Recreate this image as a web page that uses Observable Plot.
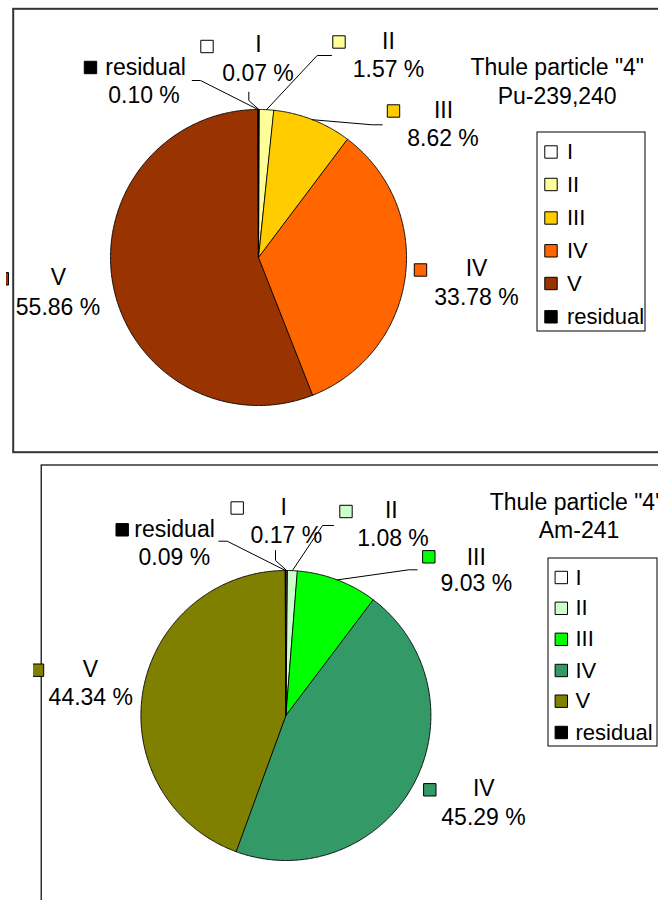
<!DOCTYPE html>
<html><head><meta charset="utf-8">
<script src="https://cdn.jsdelivr.net/npm/d3@7"></script>
<script src="https://cdn.jsdelivr.net/npm/@observablehq/plot@0.6"></script>
<style>
body{margin:0;background:#fff;}
#wrap{position:relative;width:658px;height:900px;overflow:hidden;background:#fff;}
.panel{position:absolute;overflow:hidden;}
</style></head><body>
<div id="wrap"><div id="top" class="panel"></div><div id="bottom" class="panel"></div></div>
<script>
// ---------- data ----------
const categories = ["I", "II", "III", "IV", "V", "residual"];
const puValues = [0.07, 1.57, 8.62, 33.78, 55.86, 0.10];
const amValues = [0.17, 1.08, 9.03, 45.29, 44.34, 0.09];
const puColors = ["#FFFFFF", "#FFFF99", "#FFCC00", "#FF6600", "#993300", "#000000"];
const amColors = ["#FFFFFF", "#CCFFCC", "#00FF00", "#339966", "#808000", "#000000"];
const puTitle = ['Thule particle "4"', "Pu-239,240"];
const amTitle = ['Thule particle "4"', "Am-241"];

// ---------- layout (page pixel coordinates) ----------
const FONT = "'Liberation Sans', Arial, Helvetica, sans-serif";
const FS = 23;      // data labels and titles
const FS_LEG = 22;  // legend entries
const puLayout = {
  panel: {left: 6, top: 0, width: 652, height: 458},
  center: [258, 257], r: 148,
  frame: {stroke: "#333", strokeWidth: 2, insetLeft: 6.7, insetTop: 8.3, insetBottom: 6.3, insetRight: -6},
  // [nameX, nameY, valueX, valueY, keyX, keyY]
  labels: [
    [258, 44.5, 257.5, 73.5, 206.5, 46],
    [388, 41, 388, 69.5, 338.5, 41.5],
    [443, 110, 442.5, 138.5, 393, 110.5],
    [476, 268.5, 476, 297, 420, 269.5],
    [58, 277, 57.5, 307.5, 1.8, 278.3],
    [145, 67, 143.5, 95, 90, 67]
  ],
  leaders: {0: [[248.3, 100], [248.3, 91.7]], 1: [[316.7, 55], [331, 55]], 2: [[371.7, 124.3], [381.7, 124.3]], 5: [[200, 80], [191.7, 80]]},
  title: [[556.7, 66.7], [556.7, 96]],
  legend: {box: [537, 132, 645, 331], keyX: 550.5, textX: 566.5, rows: [151.5, 184, 217.5, 250.3, 283, 316.3]}
};
const amLayout = {
  panel: {left: 33, top: 458, width: 625, height: 442},
  center: [285.4, 715], r: 145,
  frame: {stroke: "#000", strokeWidth: 1.2, insetLeft: 7.7, insetTop: 6.5, insetBottom: -6, insetRight: -6},
  labels: [
    [283.3, 506.7, 285.8, 535, 236.7, 507.5],
    [390.8, 510, 392.5, 538, 345.5, 511],
    [475.8, 556.7, 475.8, 583.3, 428.3, 556.3],
    [483.3, 788.3, 483, 816.7, 429.3, 789.3],
    [90, 669, 90.3, 696.7, 37, 669.7],
    [174, 529, 173.8, 557, 121.7, 529.3]
  ],
  leaders: {0: [[275, 560], [275, 550]], 1: [[322, 525], [333, 525]], 2: [[408.3, 569.3], [416.7, 569.3]], 5: [[226.7, 540.7], [218.3, 540.7]]},
  title: [[576, 501.7], [578.5, 530]],
  legend: {box: [548, 558, 657, 746], keyX: 560.8, textX: 575, rows: [577, 607.8, 638.8, 670, 700.7, 732]}
};

function piePanel(values, colors, title, L) {
  const [cx, cy] = L.center, r = L.r, P = L.panel;
  const loc = (p) => ({x: p[0] - cx, y: p[1] - cy});
  const arcs = d3.pie().sort(null).value(d => d)(values);

  // slice polygons from the values
  const slicePts = [];
  arcs.forEach((a, i) => {
    const n = Math.max(2, Math.ceil((a.endAngle - a.startAngle) / (Math.PI / 360)));
    slicePts.push({cat: categories[i], x: 0, y: 0, fill: colors[i]});
    for (let k = 0; k <= n; k++) {
      const t = a.startAngle + (a.endAngle - a.startAngle) * k / n;
      slicePts.push({cat: categories[i], x: r * Math.sin(t), y: -r * Math.cos(t), fill: colors[i]});
    }
  });

  // leader lines: from slice mid-angle on the rim to label
  const leaderPts = [];
  Object.entries(L.leaders).forEach(([i, pts]) => {
    const a = arcs[+i], m = (a.startAngle + a.endAngle) / 2;
    leaderPts.push({cat: categories[i], x: r * Math.sin(m), y: -r * Math.cos(m)});
    pts.forEach(p => leaderPts.push({cat: categories[i], ...loc(p)}));
  });

  const labels = categories.map((c, i) => {
    const q = L.labels[i];
    return {
      name: c, value: d3.format(".2f")(values[i]) + " %", color: colors[i],
      nx: q[0] - cx, ny: q[1] - cy, vx: q[2] - cx, vy: q[3] - cy, kx: q[4] - cx, ky: q[5] - cy
    };
  });
  const titles = title.map((t, i) => ({t, ...loc(L.title[i])}));
  const lg = L.legend;
  const legendBox = [{x1: lg.box[0] - cx, y1: lg.box[1] - cy, x2: lg.box[2] - cx, y2: lg.box[3] - cy}];
  const legendRows = categories.map((c, i) => ({name: c, color: colors[i], kx: lg.keyX - cx, tx: lg.textX - cx, y: lg.rows[i] - cy}));

  return Plot.plot({
    width: P.width, height: P.height, margin: 0,
    style: {fontFamily: FONT, background: "white", overflow: "hidden"},
    x: {domain: [P.left - cx, P.left + P.width - cx], range: [0, P.width], axis: null},
    y: {domain: [P.top - cy, P.top + P.height - cy], range: [0, P.height], axis: null},
    color: {type: "identity"},
    marks: [
      Plot.frame({fill: "none", ...L.frame}),
      Plot.line(slicePts, {x: "x", y: "y", z: "cat", fill: "fill", stroke: "#000", strokeWidth: 0.9, curve: "linear-closed", strokeLinejoin: "round"}),
      Plot.line(leaderPts, {x: "x", y: "y", z: "cat", stroke: "#000", strokeWidth: 1}),
      Plot.dot(labels, {x: "kx", y: "ky", symbol: "square", r: 7, fill: "color", stroke: "#000", strokeWidth: 1}),
      Plot.text(labels, {x: "nx", y: "ny", text: "name", fontSize: FS, fill: "#000"}),
      Plot.text(labels, {x: "vx", y: "vy", text: "value", fontSize: FS, fill: "#000"}),
      Plot.text(titles, {x: "x", y: "y", text: "t", fontSize: FS, fill: "#000"}),
      Plot.rect(legendBox, {x1: "x1", y1: "y1", x2: "x2", y2: "y2", fill: "white", stroke: "#000", strokeWidth: 1}),
      Plot.dot(legendRows, {x: "kx", y: "y", symbol: "square", r: 7, fill: "color", stroke: "#000", strokeWidth: 1}),
      Plot.text(legendRows, {x: "tx", y: "y", text: "name", textAnchor: "start", fontSize: FS_LEG, fill: "#000"})
    ]
  });
}

function mount(id, L, svg) {
  const el = document.getElementById(id);
  el.style.left = L.panel.left + "px"; el.style.top = L.panel.top + "px";
  el.style.width = L.panel.width + "px"; el.style.height = L.panel.height + "px";
  el.appendChild(svg);
}
mount("top", puLayout, piePanel(puValues, puColors, puTitle, puLayout));
mount("bottom", amLayout, piePanel(amValues, amColors, amTitle, amLayout));
</script>
</body></html>
